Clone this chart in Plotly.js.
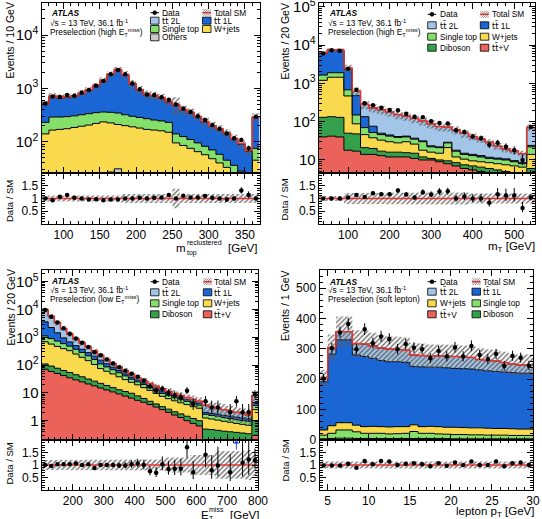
<!DOCTYPE html>
<html>
<head>
<meta charset="utf-8">
<script src="https://cdn.plot.ly/plotly-3.0.1.min.js"></script>
<style>
  html, body { margin: 0; padding: 0; background: #ffffff; }
  #chart { width: 542px; height: 519px; }
</style>
</head>
<body>
<div id="chart"></div>
<script>
// ---------- m_top^reclustered, preselection (high ETmiss): 10 GeV bins from 70 GeV ----------
const mtopLow = 70, mtopBin = 10;
const mtopData      = [520, 700, 690, 750, 730, 840, 930, 1120, 1380, 1830, 2200, 1830, 1230, 960, 770, 750, 680, 610, 500, 420, 365, 300, 255, 205, 175, 143, 116, 108, 75, 295];
const mtopOthers    = [15, 16, 17, 18, 19, 20, 21, 22, 24, 27, 31, 26, 23, 21, 20, 18, 17, 16, 15, 14, 13, 12, 11, 10, 9, 8, 8, 7, 6, 12];
const mtopWjets     = [125, 149, 153, 157, 166, 175, 184, 198, 211, 198, 179, 174, 167, 159, 150, 147, 143, 134, 80, 71, 62, 53, 46, 38, 31, 25, 16, 13, 10, 33];
const mtopSingleTop = [90, 125, 120, 120, 120, 125, 130, 130, 125, 130, 135, 120, 110, 105, 100, 90, 85, 80, 45, 40, 35, 30, 25, 22, 18, 12, 12, 8, 8, 30];
const mtopTt1L      = [284, 408, 370, 384, 393, 466, 577, 746, 1017, 1440, 1837, 1426, 883, 627, 477, 453, 405, 313, 340, 263, 234, 191, 151, 124, 109, 96, 76, 61, 42, 206];
const mtopTt2L      = [16, 22, 20, 21, 22, 24, 28, 34, 43, 55, 68, 54, 37, 28, 23, 22, 20, 17, 15, 12, 11, 9, 7, 6, 5, 4, 3, 3, 2, 9];
const mtopUnc       = [0.12, 0.12, 0.12, 0.12, 0.12, 0.12, 0.12, 0.12, 0.12, 0.12, 0.12, 0.18, 0.18, 0.18, 0.18, 0.18, 0.18, 0.18, 0.38, 0.18, 0.18, 0.18, 0.18, 0.18, 0.18, 0.18, 0.18, 0.18, 0.18, 0.18];
const mtopRatio     = [1.0, 0.93, 1.07, 1.14, 1.03, 1.0, 0.96, 0.97, 0.93, 0.96, 0.96, 1.0, 1.0, 1.03, 1.0, 1.03, 1.04, 1.14, 1.0, 1.11, 1.04, 1.04, 1.1, 1.03, 1.0, 0.96, 1.0, 1.31, 1.14, 1.0];

// ---------- mT, preselection (high ETmiss): 20 GeV bins from 30 GeV ----------
const mtLow = 30, mtBin = 20;
const mtData      = [6000, 7330, 7080, 2400, 680, 302, 268, 233, 202, 198, 161, 134, 131, 103, 93, 90, 60, 54, 41, 37, 25, 28, 22, 18, 10, 73];
const mtTtV       = [40, 42, 40, 18, 17, 14, 14, 13, 12, 12, 12, 11, 10, 10, 9, 8, 7, 6, 5.5, 5, 4.5, 4, 3.8, 3.5, 3.3, 4];
const mtDiboson   = [90, 93, 90, 32, 31, 7, 6, 4, 4, 4, 3.5, 4, 2, 1, 1, 1.5, 1.5, 1.5, 1.5, 1.5, 1.5, 1.5, 1.2, 1.2, 1.1, 2];
const mtWjets     = [1070, 1315, 1320, 420, 40, 25, 18, 16, 14, 12, 14.5, 11, 6, 5, 5, 11.5, 3.5, 3, 2.5, 2.5, 2.5, 2.5, 2.5, 2.3, 2.1, 8];
const mtSingleTop = [450, 450, 450, 210, 62, 24, 14, 13, 12, 11, 10, 9, 12, 6, 6, 7, 5, 3.5, 3.5, 3, 2.5, 2.5, 2.5, 2, 1.5, 8];
const mtTt1L      = [4450, 5350, 5250, 1670, 330, 65, 24, 4, 3, 2, 2, 2, 1.5, 1.5, 1, 1, 1, 1, 1, 1, 0.8, 0.7, 0.7, 0.6, 0.5, 2];
const mtTt2L      = [200, 250, 250, 150, 140, 145, 152, 155, 133, 112, 98, 85, 72.5, 64.5, 53, 43, 43, 35, 27, 22, 17.2, 11.8, 8.8, 7.4, 6, 46];
const mtUnc       = [0.1, 0.1, 0.1, 0.22, 0.24, 0.24, 0.24, 0.24, 0.24, 0.24, 0.24, 0.24, 0.24, 0.24, 0.24, 0.24, 0.24, 0.24, 0.2, 0.2, 0.2, 0.2, 0.2, 0.2, 0.2, 0.2];
const mtRatio     = [1.0, 1.0, 1.0, 1.04, 1.14, 1.06, 1.21, 1.17, 1.17, 1.31, 1.16, 1.04, 1.25, 1.16, 1.27, 1.28, 1.0, 1.08, 1.0, 1.0, 0.83, 1.17, 1.12, 1.12, 0.63, 1.04];

// ---------- ETmiss, preselection (low ETmiss): 20 GeV bins from 100 GeV ----------
const metLow = 100, metBin = 20;
const metData      = [9600, 5500, 3400, 2100, 1350, 900, 640, 450, 290, 225, 160, 115, 83, 63, 49, 38, 28, 17, 12, 14, 10, 8, 7, 12, 4, null, 5, 3, 3, null, 2, 5, 2, 2, 9];
const metTtV       = [71, 59, 50, 42, 35, 29.5, 25, 21, 18, 15, 12.8, 10.9, 9.2, 7.7, 6.5, 5.4, 4.6, 3.8, 3.1, 2.5, 2.0, 1.6, 1.3, 1.0, 0.8, 0.65, 0.15, 0.15, 0.15, 0.15, 0.15, 0.15, 0.15, 0.15, 0.3];
const metDiboson   = [39, 33, 27, 22, 19, 15.5, 13, 10.5, 8.5, 7, 5.7, 4.6, 3.8, 3.5, 3.2, 2.4, 1.7, 1.2, 0.9, 0.7, 0.6, 0.5, 0.45, 0.45, 0.4, 0.35, 0.35, 0.33, 0.3, 0.27, 0.25, 0.23, 0.21, 0.19, 0.7];
const metWjets     = [580, 478, 393, 326, 276, 205, 152, 113.5, 78.5, 53, 41.5, 32.5, 25, 18.8, 14.3, 11.7, 9.2, 7.3, 5.6, 4.3, 3.6, 3.1, 2.65, 2.35, 2.0, 1.8, 0.75, 0.67, 0.6, 0.53, 0.48, 0.42, 0.38, 0.34, 1.5];
const metSingleTop = [430, 330, 260, 200, 150, 120, 95, 70, 55, 35, 26, 20, 15, 11, 7, 5.5, 4.5, 3.5, 2.7, 2.1, 1.8, 1.5, 1.3, 1.1, 1.0, 0.8, 0.45, 0.4, 0.4, 0.35, 0.32, 0.3, 0.26, 0.27, 1.0];
const metTt1L      = [2480, 1350, 720, 360, 200, 130, 85, 65, 50, 40, 26, 16, 11, 7, 6, 4, 3, 2.7, 2.5, 2.2, 1.7, 1.3, 1.0, 0.8, 0.8, 0.7, 0.3, 0.3, 0.25, 0.25, 0.25, 0.25, 0.25, 0.2, 1.0];
const metTt2L      = [6000, 3450, 1900, 1100, 640, 360, 250, 160, 110, 75, 48, 31, 21, 16, 11, 7, 5, 3.5, 2.7, 2.2, 1.8, 1.5, 1.3, 1.1, 0.8, 0.7, 1.6, 1.35, 1.1, 0.95, 0.75, 0.65, 0.55, 0.45, 3.5];
const metUnc       = [0.2, 0.2, 0.2, 0.2, 0.2, 0.2, 0.2, 0.2, 0.2, 0.2, 0.2, 0.2, 0.2, 0.2, 0.22, 0.22, 0.22, 0.22, 0.22, 0.22, 0.3, 0.3, 0.3, 0.3, 0.4, 0.4, 0.4, 0.4, 0.55, 0.55, 0.55, 0.55, 0.55, 0.6, 0.45];
const metRatio     = [1.0, 0.96, 1.03, 1.03, 1.03, 1.06, 1.0, 1.03, 0.88, 1.0, 1.0, 1.0, 0.98, 0.98, 1.03, 1.06, 1.0, 0.75, 0.69, 1.03, 0.84, 0.85, 0.85, 1.71, 0.71, null, 1.41, 0.79, 0.98, null, 0.71, 2.5, 1.09, 1.22, 1.19];

// ---------- lepton pT, preselection (soft lepton): 1 GeV bins from 4 GeV ----------
const lepLow = 4, lepBin = 1;
const lepData      = [203, 302, 354, 382, 299, 365, 319, 341, 333, 299, 316, 304, 299, 269, 293, 275, 305, 275, 310, 280, 266, 283, 244, 277, 271, 245];
const lepTtV       = [1, 1, 1, 1, 1, 1, 1, 1, 1, 1, 1, 1, 1, 1, 1, 1, 1, 1, 1, 1, 1, 1, 1, 1, 1, 1];
const lepDiboson   = [3, 4, 5, 5, 4, 4, 4, 4, 4, 4, 4, 4, 4, 4, 4, 4, 3, 3, 3, 3, 3, 3, 3, 3, 3, 3];
const lepSingleTop = [12, 17, 27, 27, 22, 17, 17, 17, 15, 16, 17, 23, 17, 17, 15, 14, 14, 14, 13, 13, 12, 12, 12, 11, 11, 11];
const lepWjets     = [17, 25, 24, 24, 22, 22, 23, 22, 23, 23, 22, 22, 22, 23, 24, 23, 24, 23, 23, 23, 23, 22, 22, 22, 21, 21];
const lepTt1L      = [159, 236, 273, 273, 231, 231, 224, 218, 215, 214, 212, 192, 197, 195, 196, 196, 194, 194, 194, 191, 189, 188, 186, 185, 184, 184];
const lepTt2L      = [11, 22, 27, 27, 38, 41, 41, 41, 42, 40, 40, 38, 37, 36, 37, 38, 39, 38, 38, 34, 34, 34, 31, 28, 27, 27];
const lepUnc       = [0.14, 0.14, 0.14, 0.14, 0.14, 0.14, 0.14, 0.14, 0.14, 0.14, 0.14, 0.14, 0.14, 0.14, 0.14, 0.14, 0.14, 0.14, 0.14, 0.14, 0.14, 0.14, 0.14, 0.14, 0.14, 0.14];
const lepRatio     = [0.98, 0.98, 0.98, 1.05, 0.89, 1.16, 1.03, 1.16, 1.14, 1.0, 1.05, 1.07, 1.03, 0.95, 1.07, 0.97, 1.1, 1.0, 1.14, 1.0, 1.0, 1.14, 0.95, 1.07, 1.1, 1.0];

// ---------- labels ----------
const TT = '<span style="font-family:DejaVu Sans">t\u0074\u0304</span>';
const lumiText = '\u221As = 13 TeV, 36.1 fb<sup>-1</sup>';
const regionTexts = ['Preselection (high E<sub>T</sub><sup>miss</sup>)', 'Preselection (high E<sub>T</sub><sup>miss</sup>)',
                     'Preselection (low E<sub>T</sub><sup>miss</sup>)', 'Preselection (soft lepton)'];
const yTitles = ['Events / 10 GeV', 'Events / 20 GeV', 'Events / 20 GeV', 'Events / 1 GeV'];

// ---------- styling ----------
const FONT = 'Liberation Sans, Arial, Helvetica, sans-serif';
const TICK = 12;
const C = {
  tt2l: '#a3c5e8', tt1l: '#1b66d5', st: '#84df6b', w: '#f9d94d',
  dib: '#34a04b', ttv: '#ea6259', oth: '#c9c9c9', total: '#e3342f'
};
const W = 542, H = 519;
const X = x => x / W;
const Y = y => 1 - y / H;

const panels = [
  { lo: mtopLow, w: mtopBin, data: mtopData, ratio: mtopRatio, unc: mtopUnc,
    stack: [[mtopOthers, C.oth], [mtopWjets, C.w], [mtopSingleTop, C.st], [mtopTt1L, C.tt1l], [mtopTt2L, C.tt2l]],
    log: true, yRange: [1.413, 4.6], xticks: [100, 150, 200, 250, 300, 350], xminor: 10,
    box: { l: 41.7, r: 259.5, top: 3, mid: 173, bot: 224 },
    txt: { x: 50, y: [13.3, 23.3, 32.3] },
    leg: { keyX: [150.5, 202.5], txtX: [161, 213.3], rows: [12.7, 20.7, 29, 37.3],
           items: [['data', 'Data'], ['total', 'Total SM'], ['box', TT + ' 2L', C.tt2l], ['box', TT + ' 1L', C.tt1l],
                   ['box', 'Single top', C.st], ['box', 'W+jets', C.w], ['box', 'Others', C.oth]] },
    yt: [9, 40.5], rt: [9, 201] },
  { lo: mtLow, w: mtBin, data: mtData, ratio: mtRatio, unc: mtUnc,
    stack: [[mtTtV, C.ttv], [mtDiboson, C.dib], [mtWjets, C.w], [mtSingleTop, C.st], [mtTt1L, C.tt1l], [mtTt2L, C.tt2l]],
    log: true, yRange: [0.66, 5.1], xticks: [100, 200, 300, 400, 500], xminor: 20,
    box: { l: 319, r: 535, top: 3, mid: 173, bot: 224 },
    txt: { x: 328, y: [13.3, 23.3, 32.3] },
    leg: { keyX: [427.7, 480.3], txtX: [439.3, 491], rows: [14.3, 25.3, 36.7, 47.7],
           items: [['data', 'Data'], ['total', 'Total SM'], ['box', TT + ' 2L', C.tt2l], ['box', TT + ' 1L', C.tt1l],
                   ['box', 'Single top', C.st], ['box', 'W+jets', C.w], ['box', 'Diboson', C.dib], ['box', TT + '+V', C.ttv]] },
    yt: [285, 41.5], rt: [284.5, 200] },
  { lo: metLow, w: metBin, data: metData, ratio: metRatio, unc: metUnc,
    stack: [[metTtV, C.ttv], [metDiboson, C.dib], [metWjets, C.w], [metSingleTop, C.st], [metTt1L, C.tt1l], [metTt2L, C.tt2l]],
    log: true, yRange: [-0.694, 5.42], xticks: [200, 300, 400, 500, 600, 700, 800], xminor: 20,
    box: { l: 42, r: 258, top: 270, mid: 440, bot: 490 },
    txt: { x: 50, y: [280.7, 290, 299] },
    leg: { keyX: [150.5, 203.3], txtX: [161, 213.3], rows: [281.7, 292.3, 303.3, 314.3],
           items: [['data', 'Data'], ['total', 'Total SM'], ['box', TT + ' 2L', C.tt2l], ['box', TT + ' 1L', C.tt1l],
                   ['box', 'Single top', C.st], ['box', 'W+jets', C.w], ['box', 'Diboson', C.dib], ['box', TT + '+V', C.ttv]] },
    yt: [10.5, 308], rt: [9, 463.5] },
  { lo: lepLow, w: lepBin, data: lepData, ratio: lepRatio, unc: lepUnc,
    stack: [[lepTtV, C.ttv], [lepDiboson, C.dib], [lepSingleTop, C.st], [lepWjets, C.w], [lepTt1L, C.tt1l], [lepTt2L, C.tt2l]],
    log: false, yRange: [0, 560], ydtick: 100, yminor: 20, xticks: [5, 10, 15, 20, 25, 30], xminor: 1,
    box: { l: 319.5, r: 533, top: 270, mid: 440, bot: 490 },
    txt: { x: 328, y: [281.7, 290, 299] },
    leg: { keyX: [427.7, 472], txtX: [439.3, 482], rows: [281.7, 291.7, 303.3, 314.3],
           items: [['data', 'Data'], ['total', 'Total SM'], ['box', TT + ' 2L', C.tt2l], ['box', TT + ' 1L', C.tt1l],
                   ['box', 'W+jets', C.w], ['box', 'Single top', C.st], ['box', TT + '+V', C.ttv], ['box', 'Diboson', C.dib]] },
    yt: [285, 306], rt: [284.5, 461] }
];

const traces = [];
const shapes = [];
const annotations = [];
const layout = {
  width: W, height: H, margin: { l: 0, r: 0, t: 0, b: 0 },
  paper_bgcolor: '#ffffff', plot_bgcolor: 'rgba(0,0,0,0)', showlegend: false,
  font: { family: FONT, size: 10.5, color: '#000' },
  shapes: shapes, annotations: annotations
};

const minorStyle = { ticks: 'inside', ticklen: 3, tickcolor: '#000', tickwidth: 1, showgrid: false };
function axisBase(extra) {
  return Object.assign({
    showline: true, linecolor: '#000', linewidth: 1, mirror: 'allticks',
    ticks: 'inside', ticklen: 6, tickwidth: 1, tickcolor: '#000',
    showgrid: false, zeroline: false, fixedrange: true, ticklabeloverflow: 'allow',
    tickfont: { family: FONT, size: TICK, color: '#000' }
  }, extra);
}

function text(x, y, t, opts) {
  annotations.push(Object.assign({
    xref: 'paper', yref: 'paper', x: X(x), y: Y(y), text: t, showarrow: false,
    xanchor: 'left', yanchor: 'middle', borderpad: 0, font: { family: FONT, size: 8.3, color: '#000' }
  }, opts || {}));
}

function legendKey(kind, x, y, color) {
  const w = 8.5, h = 7;
  const base = { xref: 'paper', yref: 'paper', layer: 'above' };
  if (kind === 'data') {
    shapes.push(Object.assign({ type: 'line', x0: X(x), x1: X(x + w), y0: Y(y), y1: Y(y), line: { color: '#000', width: 1 } }, base));
    shapes.push(Object.assign({ type: 'circle', x0: X(x + w / 2 - 2), x1: X(x + w / 2 + 2), y0: Y(y + 2), y1: Y(y - 2),
      fillcolor: '#000', line: { color: '#000', width: 0.5 } }, base));
  } else if (kind === 'total') {
    shapes.push(Object.assign({ type: 'rect', x0: X(x), x1: X(x + w), y0: Y(y + h / 2), y1: Y(y - h / 2),
      fillcolor: '#ffffff', line: { width: 0 } }, base));
    for (let k = -6; k <= 8; k += 2.2) {
      // diagonal hatch clipped to the key box
      let x0 = x + k, y0 = y + h / 2, x1 = x + k + h, y1 = y - h / 2;
      if (x0 < x) { y0 -= (x - x0); x0 = x; }
      if (x1 > x + w) { y1 += (x1 - x - w); x1 = x + w; }
      if (x1 <= x0) continue;
      shapes.push(Object.assign({ type: 'line', x0: X(x0), x1: X(x1), y0: Y(y0), y1: Y(y1), line: { color: '#707070', width: 0.8 } }, base));
    }
    shapes.push(Object.assign({ type: 'line', x0: X(x), x1: X(x + w), y0: Y(y), y1: Y(y), line: { color: C.total, width: 1.5 } }, base));
  } else {
    shapes.push(Object.assign({ type: 'rect', x0: X(x), x1: X(x + w), y0: Y(y + h / 2), y1: Y(y - h / 2),
      fillcolor: color, line: { color: '#000', width: 0.8 } }, base));
  }
}

panels.forEach((p, k) => {
  const n = p.data.length;
  const edges = [];
  for (let i = 0; i <= n; i++) edges.push(p.lo + i * p.w);
  const centers = edges.slice(0, n).map(v => v + p.w / 2);
  const a = 2 * k + 1, b = 2 * k + 2;
  const ka = a === 1 ? '' : String(a), kb = String(b);
  const xm = 'x' + ka, ym = 'y' + ka, xr = 'x' + kb, yr = 'y' + kb;
  const common = { hoverinfo: 'skip', showlegend: false };

  // baseline for the first stacked fill
  const base = p.log ? 1e-4 : 0;
  traces.push(Object.assign({ type: 'scatter', x: [edges[0], edges[n]], y: [base, base], mode: 'lines',
    line: { width: 0, color: 'rgba(0,0,0,0)' }, xaxis: xm, yaxis: ym }, common));

  // stacked backgrounds
  let acc = new Array(n).fill(0);
  p.stack.forEach(([vals, color]) => {
    acc = acc.map((s, i) => s + vals[i]);
    traces.push(Object.assign({ type: 'scatter', x: edges, y: acc.concat([acc[n - 1]]), mode: 'lines',
      line: { shape: 'hv', color: '#000', width: 1 }, fill: 'tonexty', fillcolor: color, xaxis: xm, yaxis: ym }, common));
  });
  const total = acc;

  // hatched uncertainty band (main and ratio)
  function band(lowF, highF, xa, ya) {
    const bx = [], by = [];
    for (let i = 0; i < n; i++) { bx.push(edges[i], edges[i + 1]); by.push(highF(i), highF(i)); }
    for (let i = n - 1; i >= 0; i--) { bx.push(edges[i + 1], edges[i]); by.push(lowF(i), lowF(i)); }
    bx.push(bx[0]); by.push(by[0]);
    traces.push(Object.assign({ type: 'scatter', x: bx, y: by, mode: 'lines', line: { width: 0, color: 'rgba(0,0,0,0)' },
      fill: 'toself', fillcolor: 'rgba(0,0,0,0)',
      fillpattern: { shape: '/', fgcolor: '#5c5c5c', bgcolor: 'rgba(255,255,255,0)', size: 3.5, solidity: 0.35 },
      xaxis: xa, yaxis: ya }, common));
  }
  band(i => total[i] * (1 - p.unc[i]), i => total[i] * (1 + p.unc[i]), xm, ym);

  // total SM line
  traces.push(Object.assign({ type: 'scatter', x: edges, y: total.concat([total[n - 1]]), mode: 'lines',
    line: { shape: 'hv', color: C.total, width: 1.5 }, xaxis: xm, yaxis: ym }, common));

  // data with Poisson-like errors
  const up = p.data.map(d => d == null ? null : Math.sqrt(d + 0.25) + 0.5);
  const dn = p.data.map(d => d == null ? null : Math.sqrt(d + 0.25) - 0.5);
  traces.push(Object.assign({ type: 'scatter', x: centers, y: p.data, mode: 'markers',
    marker: { color: '#000', size: 4.5 },
    error_y: { type: 'data', symmetric: false, array: up, arrayminus: dn, color: '#000', thickness: 1, width: 0 },
    xaxis: xm, yaxis: ym }, common));

  // ratio panel
  band(i => 1 - p.unc[i], i => 1 + p.unc[i], xr, yr);
  traces.push(Object.assign({ type: 'scatter', x: [edges[0], edges[n]], y: [1, 1], mode: 'lines',
    line: { color: C.total, width: 1.5 }, xaxis: xr, yaxis: yr }, common));
  const rMax = 2;
  const rIn = p.ratio.map(r => (r != null && r <= rMax) ? r : null);
  const rUp = p.ratio.map((r, i) => (r != null && p.data[i]) ? r * up[i] / p.data[i] : null);
  const rDn = p.ratio.map((r, i) => (r != null && p.data[i]) ? r * dn[i] / p.data[i] : null);
  traces.push(Object.assign({ type: 'scatter', x: centers, y: rIn, mode: 'markers',
    marker: { color: '#000', size: 4.5 },
    error_y: { type: 'data', symmetric: false, array: rUp, arrayminus: rDn, color: '#000', thickness: 1, width: 0 },
    xaxis: xr, yaxis: yr }, common));
  // out-of-range ratio points are marked by an arrow at the top edge
  const ax = [], ay = [];
  p.ratio.forEach((r, i) => { if (r != null && r > rMax) { ax.push(centers[i], centers[i], null); ay.push(1.62, 1.98, null); } });
  if (ax.length) {
    traces.push(Object.assign({ type: 'scatter', x: ax, y: ay, mode: 'lines', line: { color: '#2a4be0', width: 1 }, xaxis: xr, yaxis: yr }, common));
    const tipX = ax.filter((v, j) => j % 3 === 0);
    traces.push(Object.assign({ type: 'scatter', x: tipX, y: tipX.map(() => 1.9),
      mode: 'markers', marker: { symbol: 'triangle-up', color: '#2a4be0', size: 5 }, xaxis: xr, yaxis: yr }, common));
  }

  // axes
  const xRange = [edges[0], edges[n]];
  const xDom = [X(p.box.l), X(p.box.r)];
  const xTicks = { tickmode: 'array', tickvals: p.xticks, ticktext: p.xticks.map(String),
    minor: Object.assign({ tickmode: 'linear', dtick: p.xminor, tick0: 0 }, minorStyle) };
  layout['xaxis' + ka] = axisBase(Object.assign({ domain: xDom, range: xRange, anchor: ym, showticklabels: false }, xTicks));
  layout['yaxis' + ka] = axisBase(p.log
    ? { domain: [Y(p.box.mid), Y(p.box.top)], type: 'log', range: p.yRange, anchor: xm, dtick: 1, exponentformat: 'power',
        minor: Object.assign({ dtick: 'D1' }, minorStyle) }
    : { domain: [Y(p.box.mid), Y(p.box.top)], type: 'linear', range: p.yRange, anchor: xm, dtick: p.ydtick, tick0: 0,
        minor: Object.assign({ dtick: p.yminor, tick0: 0 }, minorStyle) });
  layout['xaxis' + kb] = axisBase(Object.assign({ domain: xDom, range: xRange, anchor: yr }, xTicks));
  layout['yaxis' + kb] = axisBase({ domain: [Y(p.box.bot), Y(p.box.mid)], range: [0, 2], anchor: xr,
    tickmode: 'array', tickvals: [0.5, 1, 1.5], ticktext: ['0.5', '1', '1.5'],
    minor: Object.assign({ tickmode: 'linear', dtick: 0.1, tick0: 0 }, minorStyle) });

  // ATLAS label block
  text(p.txt.x, p.txt.y[0], '<b><i>ATLAS</i></b>');
  text(p.txt.x - 1, p.txt.y[1], lumiText);
  text(p.txt.x - 1, p.txt.y[2], regionTexts[k]);

  // legend, two columns
  p.leg.items.forEach((it, j) => {
    const col = j % 2, row = Math.floor(j / 2);
    legendKey(it[0], p.leg.keyX[col], p.leg.rows[row], it[2]);
    text(p.leg.txtX[col], p.leg.rows[row], it[1]);
  });

  // y titles
  text(p.yt[0], p.yt[1], yTitles[k], { xanchor: 'center', textangle: -90, font: { family: FONT, size: 10.5, color: '#000' } });
  text(p.rt[0], p.rt[1], 'Data / SM', { xanchor: 'center', textangle: -90, font: { family: FONT, size: 9.5, color: '#000' } });
});

// x-axis titles
const big = { family: FONT, size: 11.5, color: '#000' };
const small = { family: FONT, size: 7, color: '#000' };
text(175, 248, 'm', { font: big });
text(185.5, 242.5, 'reclustered', { font: small });
text(185.5, 253, 'top', { font: small });
text(258, 248, '[GeV]', { font: big, xanchor: 'right' });
text(536, 247, 'm<sub>T</sub> [GeV]', { font: big, xanchor: 'right' });
text(200, 514.5, 'E', { font: big });
text(208, 509.5, 'miss', { font: small });
text(208, 518, 'T', { font: small });
text(260, 514.5, '[GeV]', { font: big, xanchor: 'right' });
text(535, 512, 'lepton p<sub>T</sub> [GeV]', { font: big, xanchor: 'right' });

Plotly.newPlot('chart', traces, layout, { staticPlot: true, displayModeBar: false });
</script>
</body>
</html>
